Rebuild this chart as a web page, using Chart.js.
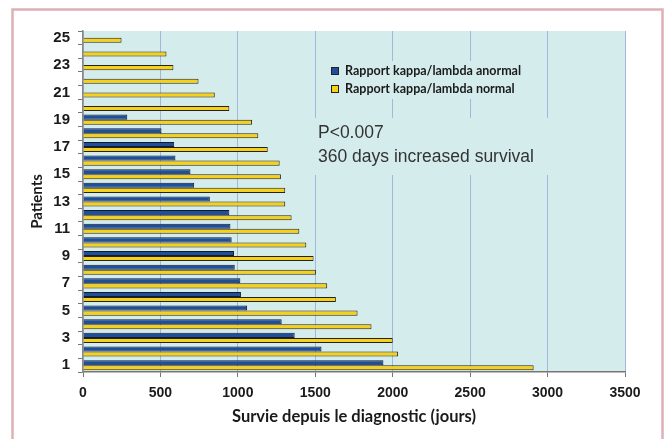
<!DOCTYPE html>
<html>
<head>
<meta charset="utf-8">
<script src="https://cdn.jsdelivr.net/npm/chart.js@4.4.0/dist/chart.umd.min.js"></script>
<style>
  html, body { margin: 0; padding: 0; background: #fff; }
</style>
</head>
<body>
<canvas id="survivalChart" width="667" height="439"></canvas>
<script>
// Patients 1..25 (1 at the bottom), survival in days
const patients = ['1','2','3','4','5','6','7','8','9','10','11','12','13','14','15','16','17','18','19','20','21','22','23','24','25'];
const anormal = [1940, 1540, 1367, 1283, 1060, 1020, 1016, 980, 975, 960, 952, 945, 819, 718, 694, 597, 589, 507, 286, null, null, null, null, null, null];
const normal = [2910, 2035, 2000, 1863, 1773, 1633, 1577, 1504, 1489, 1442, 1397, 1347, 1306, 1306, 1278, 1270, 1193, 1132, 1092, 945, 851, 746, 584, 539, 249];
const xTicks = [0, 500, 1000, 1500, 2000, 2500, 3000, 3500];
const seriesNames = ['Rapport kappa/lambda anormal', 'Rapport kappa/lambda normal'];
const seriesColors = ['#1d4f9c', '#f6d11c'];
const notes = ['P<0.007', '360 days increased survival'];

const TEAL = '#d5eced';

// frame, plot background, and the boxes behind legend / note
const decor = {
  id: 'decor',
  beforeDraw(chart) {
    const ctx = chart.ctx;
    const a = chart.chartArea;
    ctx.save();
    ctx.fillStyle = '#fff';
    ctx.fillRect(0, 0, chart.width, chart.height);
    ctx.strokeStyle = '#ddb0b5';
    ctx.lineWidth = 2.5;
    ctx.strokeRect(12.5, 9.5, 650, 440);
    ctx.fillStyle = TEAL;
    ctx.fillRect(a.left, a.top, a.right - a.left, a.bottom - a.top);
    ctx.restore();
  },
  beforeDatasetsDraw(chart) {
    const ctx = chart.ctx;
    ctx.save();
    ctx.fillStyle = TEAL;
    ctx.fillRect(320, 61, 200, 38);
    ctx.fillRect(312, 118, 246, 57);
    ctx.restore();
  },
  afterDraw(chart) {
    const ctx = chart.ctx;
    ctx.save();
    // legend
    ctx.font = 'bold 12.5px Lato';
    ctx.textBaseline = 'middle';
    seriesNames.forEach((name, i) => {
      const y = 71 + i * 18;
      ctx.fillStyle = seriesColors[i];
      ctx.fillRect(331, y - 3.5, 7, 7);
      ctx.strokeStyle = '#222';
      ctx.lineWidth = 1;
      ctx.strokeRect(331.5, y - 3.5, 7, 7);
      ctx.fillStyle = '#1a1a1a';
      ctx.fillText(name, 345, y);
    });
    // note
    ctx.font = '17.5px "Liberation Sans"';
    ctx.fillStyle = '#333';
    notes.forEach((t, i) => ctx.fillText(t, 318, 133 + i * 24));
    ctx.restore();
  }
};

const ctx = document.getElementById('survivalChart').getContext('2d');
const survivalChart = new Chart(ctx, {
  type: 'bar',
  data: {
    labels: patients,
    datasets: [
      { label: seriesNames[0], data: anormal, backgroundColor: seriesColors[0], borderColor: '#151a28', borderWidth: 1 },
      { label: seriesNames[1], data: normal, backgroundColor: seriesColors[1], borderColor: '#26241a', borderWidth: 1 }
    ]
  },
  options: {
    indexAxis: 'y',
    responsive: false,
    animation: false,
    devicePixelRatio: 1,
    categoryPercentage: 0.74,
    barPercentage: 1.0,
    layout: { padding: { top: 31, right: 42, left: 0, bottom: 0 } },
    plugins: { legend: { display: false }, tooltip: { enabled: false } },
    scales: {
      x: {
        min: xTicks[0],
        max: xTicks[xTicks.length - 1],
        afterFit: s => { s.height = 67; },
        ticks: {
          stepSize: xTicks[1] - xTicks[0],
          color: '#1a1a1a',
          padding: 8,
          font: { family: '"Liberation Sans"', size: 14, weight: 'bold' },
          callback: v => String(v)
        },
        grid: { color: '#a3b7db', lineWidth: 1, tickLength: 5, tickColor: '#777' },
        border: { color: '#777', width: 1.5 },
        title: {
          display: true,
          text: 'Survie depuis le diagnostic (jours)',
          color: '#1a1a1a',
          font: { family: 'Lato', size: 16.5, weight: 'bold' },
          padding: { top: 0, bottom: 12 }
        }
      },
      y: {
        reverse: true,
        afterFit: s => { s.width = 83; },
        ticks: {
          autoSkip: false,
          color: '#1a1a1a',
          padding: 8,
          font: { family: '"Liberation Sans"', size: 15, weight: 'bold' },
          callback: (v, i) => (i % 2 === 0 ? patients[i] : '')
        },
        grid: { offset: true, drawOnChartArea: false, tickLength: 5, color: '#777' },
        border: { color: '#888', width: 1.5 },
        title: {
          display: true,
          text: 'Patients',
          color: '#1a1a1a',
          font: { family: 'Lato', size: 15, weight: 'bold' },
          padding: { top: 28, bottom: 0 }
        }
      }
    }
  },
  plugins: [decor]
});
</script>
</body>
</html>
